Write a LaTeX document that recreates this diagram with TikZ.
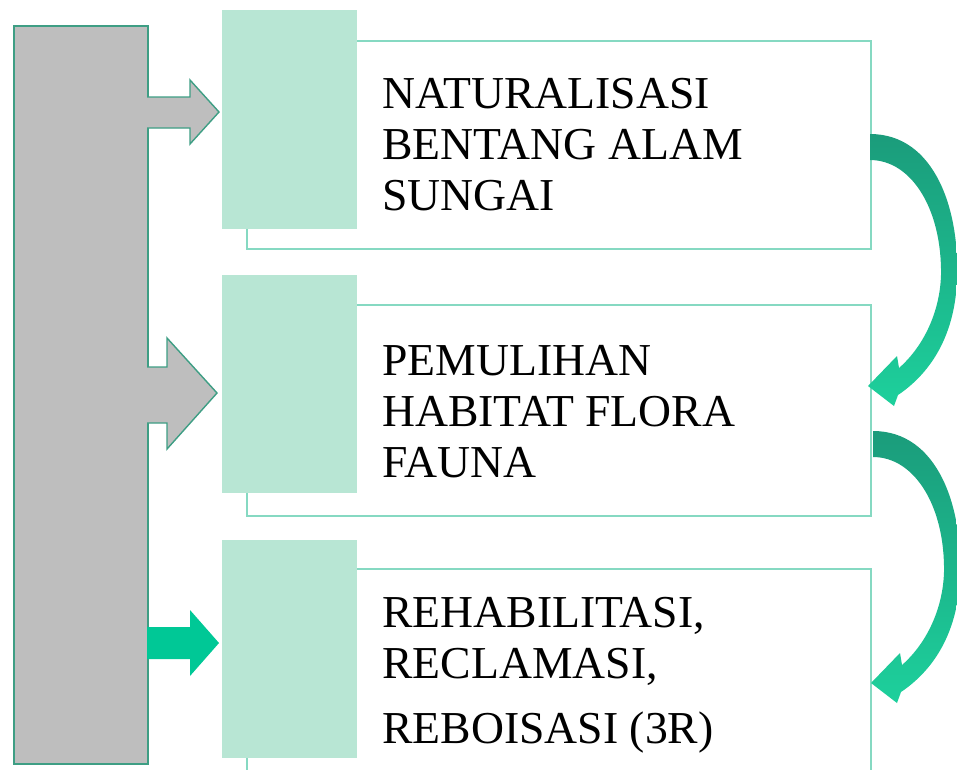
\documentclass[tikz,border=0pt]{standalone}
\usepackage{fontspec}
\setmainfont{Liberation Serif}
\usetikzlibrary{positioning}
\definecolor{barfill}{HTML}{BEBEBE}
\definecolor{barline}{HTML}{3E9E84}
\definecolor{mint}{HTML}{B8E6D4}
\definecolor{mintline}{HTML}{86D9C2}
\definecolor{fresh}{HTML}{00C896}
\definecolor{turndark}{HTML}{1B9C7B}
\definecolor{turnlight}{HTML}{1DD09C}

\begin{document}
\begin{tikzpicture}[x=0.02cm,y=-0.02cm,
  outbox/.style={draw=mintline,line width=1.1pt,fill=white,inner sep=0pt,anchor=north west},
  sqbox/.style={fill=mint,inner sep=0pt,anchor=north west,minimum width=2.7cm},
  label/.style={anchor=base west,align=left,inner sep=0pt,font=\fontsize{26}{29}\selectfont},
  push/.style={fill=barfill,draw=barline,line width=0.8pt,line join=miter}]
\useasboundingbox (0,0) rectangle (957,769);
\clip (0,0) rectangle (957,769);
% the grey bar on the left
\node[fill=barfill,draw=barline,line width=1pt,inner sep=0pt,anchor=north west,
  minimum width=2.68cm,minimum height=14.76cm] (bar) at (13,25) {};
% outlined boxes, then the mint squares over their corners
\node[outbox,minimum width=12.48cm,minimum height=4.16cm] (box1) at (246,40) {};
\node[outbox,minimum width=12.48cm,minimum height=4.22cm] (box2) at (246,304) {};
\node[outbox,minimum width=12.48cm,minimum height=4.64cm] (box3) at (246,568) {};
\node[sqbox,minimum height=4.38cm] (sq1) at (222,10) {};
\node[sqbox,minimum height=4.36cm] (sq2) at (222,275) {};
\node[sqbox,minimum height=4.36cm] (sq3) at (222,540) {};
% texts (placed by the baseline of their last line)
\node[label] (txt1) at (382,210) {NATURALISASI\\BENTANG ALAM\\SUNGAI};
\node[label] (txt2) at (382,477) {PEMULIHAN\\HABITAT FLORA\\FAUNA};
\node[label] (txt3) at (382,743) {REHABILITASI,\\RECLAMASI,\\[0.28cm]REBOISASI (3R)};
% block arrows from the bar
\draw[push] (147,97) -- (190,97) -- (190,80) -- (219,112) -- (190,144) -- (190,128) -- (147,128);
\draw[push] (147,367) -- (167,367) -- (167,338) -- (217,393) -- (167,449) -- (167,423) -- (147,423);
\fill[fresh] (147,627) -- (190,627) -- (190,610) -- (219,643) -- (190,676) -- (190,659) -- (147,659) -- cycle;
% bent arrows down the right side
\foreach \dy/\dx in {0/0,297/3} {
\shade[top color=turndark,bottom color=turnlight,shift={(\dx,\dy)}]
  (870,134) .. controls (935,134) and (960,210) .. (957,280)
  .. controls (955,330) and (935,370) .. (898,395)
  -- (894,406) -- (868,386) -- (897,356) -- (899,368)
  .. controls (925,345) and (940,310) .. (941,275)
  .. controls (942,210) and (912,160) .. (870,160) -- cycle;
}
\end{tikzpicture}
\end{document}
